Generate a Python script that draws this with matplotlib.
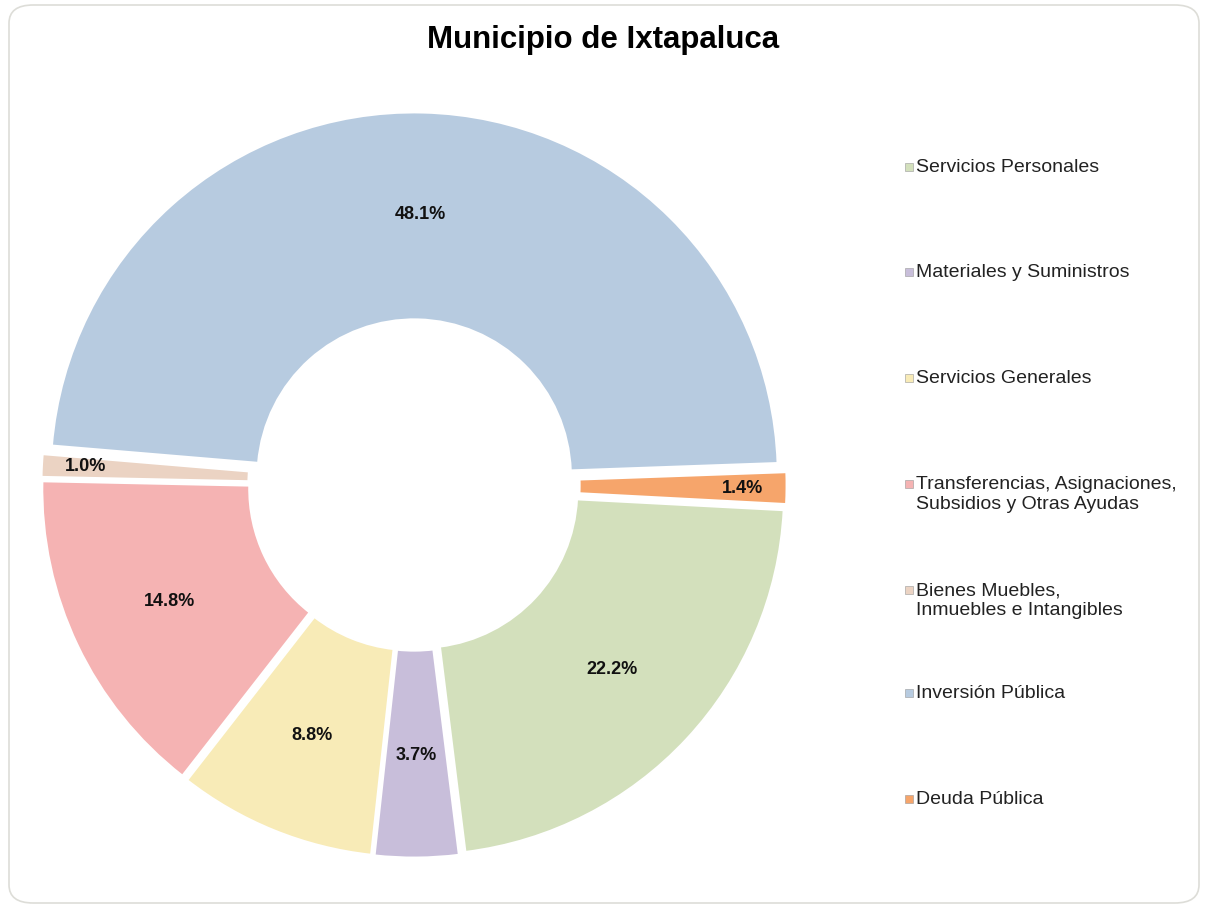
import numpy as np
import matplotlib
matplotlib.use("Agg")
import matplotlib.pyplot as plt
from matplotlib.patches import FancyBboxPatch, Rectangle

# =========================
# DATA
# =========================
title = "Municipio de Ixtapaluca"
categories = [
    "Servicios Personales",
    "Materiales y Suministros",
    "Servicios Generales",
    "Transferencias, Asignaciones,\nSubsidios y Otras Ayudas",
    "Bienes Muebles,\nInmuebles e Intangibles",
    "Inversión Pública",
    "Deuda Pública",
]
shares = [22.2, 3.7, 8.8, 14.8, 1.0, 48.1, 1.4]
colors = ["#D3E0BC", "#C8BEDA", "#F8EBB7", "#F5B3B3", "#EBD3C3", "#B7CBE0", "#F6A56B"]

plt.rcParams["font.family"] = ["Liberation Sans", "DejaVu Sans"]

# =========================
# FIGURE
# =========================
W, H = 1207, 907
fig = plt.figure(figsize=(W / 100, H / 100), dpi=100)
fig.patch.set_facecolor("white")

# light rounded frame around the chart area
frame = FancyBboxPatch((9 / W, 4 / H), 1190 / W, 898 / H,
                       boxstyle="round,pad=0,rounding_size=0.02",
                       transform=fig.transFigure, facecolor="none",
                       edgecolor="#DDDDD8", linewidth=1.2, zorder=-1)
fig.patches.append(frame)

fig.text(0.5, 1 - 40 / H, title, ha="center", va="center",
         fontsize=22.5, fontweight="bold", color="black")

# =========================
# DONUT
# =========================
cx, cy, half = 414, H - 485, 396
ax = fig.add_axes([(cx - half) / W, (cy - half) / H, 2 * half / W, 2 * half / H])

wedges, texts, autotexts = ax.pie(
    shares, colors=colors, startangle=-3, counterclock=False,
    explode=[0.025] * len(shares), radius=1.01,
    wedgeprops=dict(width=0.575, edgecolor="white", linewidth=1.5),
    autopct="%.1f%%", pctdistance=0.72,
    textprops=dict(fontsize=13, fontweight="bold", color="#111111"),
)
# pie() sets its own limits, so set them afterwards
ax.set_xlim(-1.1, 1.1)
ax.set_ylim(-1.1, 1.1)
ax.set_aspect("equal")
ax.axis("off")

# thin slices get their labels near the outer rim
for w, t, v in zip(wedges, autotexts, shares):
    if v < 2:
        ang = np.deg2rad((w.theta1 + w.theta2) / 2)
        side = np.sign(np.cos(ang))
        t.set_position((0.97 * side, np.sin(ang)))
        t.set_ha("right" if side > 0 else "left")

# =========================
# LEGEND
# =========================
legend_y = [167, 272, 378, 484, 590, 693, 799]
for lab, col, yy in zip(categories, colors, legend_y):
    fig.patches.append(Rectangle((905 / W, 1 - (yy + 4) / H), 8 / W, 8 / H,
                                 transform=fig.transFigure, facecolor=col,
                                 edgecolor="#999999", linewidth=0.4))
    fig.text(916 / W, 1 - (yy - 8) / H, lab, ha="left", va="top",
             fontsize=14, color="#222222", linespacing=1.25)

fig.savefig("out.png", dpi=100)
